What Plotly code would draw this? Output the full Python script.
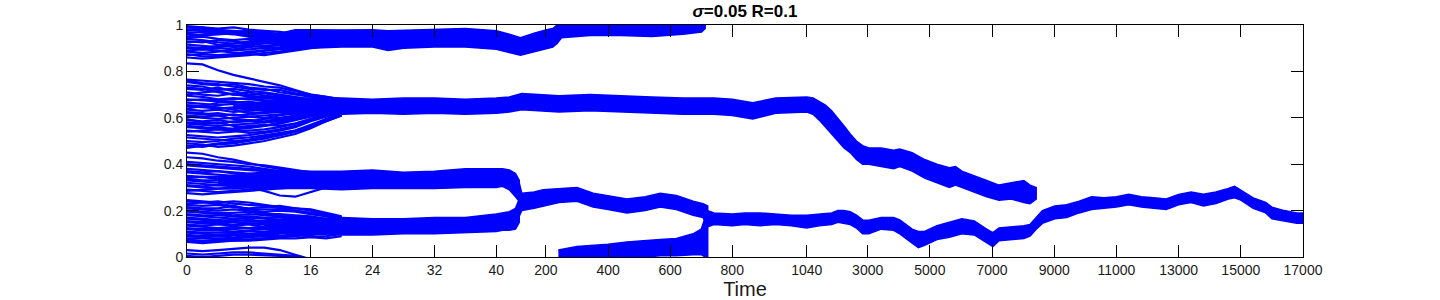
import numpy as np
import plotly.graph_objects as go

# ---------------- axis scale (three linear time phases) ----------------
BREAK_T = [0, 40, 1040, 17000]
BREAK_U = [0.0, 309.5, 620.2, 1116.8]
TICK_T = [0, 8, 16, 24, 32, 40, 200, 400, 600, 800, 1040,
          3000, 5000, 7000, 9000, 11000, 13000, 15000, 17000]
TICK_LABELS = [str(v) for v in TICK_T]
Y_TICKS = [0, 0.2, 0.4, 0.6, 0.8, 1]
Y_LABELS = ["0", "0.2", "0.4", "0.6", "0.8", "1"]

# ---------------- early individual trajectories (t = 0..20) ----------------
T_EARLY = [0, 2, 4, 6, 8, 10, 12, 14, 16, 18, 20]
A_TRAJ = [
    [0.99, 0.985, 0.98, 0.975, 0.97, 0.965, 0.96, 0.955, 0.95, 0.945, 0.945],
    [0.975, 0.98, 0.97, 0.965, 0.96, 0.955, 0.95, 0.945, 0.94, 0.94, 0.94],
    [0.96, 0.955, 0.96, 0.965, 0.955, 0.95, 0.945, 0.94, 0.935, 0.935, 0.935],
    [0.945, 0.95, 0.94, 0.935, 0.94, 0.935, 0.93, 0.935, 0.93, 0.93, 0.93],
    [0.93, 0.925, 0.935, 0.93, 0.92, 0.925, 0.93, 0.925, 0.93, 0.93, 0.93],
    [0.915, 0.91, 0.905, 0.91, 0.915, 0.92, 0.925, 0.93, 0.93, 0.935, 0.935],
    [0.90, 0.895, 0.90, 0.895, 0.905, 0.91, 0.915, 0.92, 0.925, 0.93, 0.93],
    [0.885, 0.88, 0.885, 0.89, 0.895, 0.90, 0.905, 0.915, 0.92, 0.925, 0.93],
    [0.87, 0.875, 0.87, 0.875, 0.885, 0.89, 0.895, 0.90, 0.91, 0.92, 0.925],
    [0.86, 0.855, 0.86, 0.865, 0.87, 0.88, 0.885, 0.895, 0.905, 0.915, 0.925],
    [0.995, 0.99, 0.985, 0.99, 0.98, 0.975, 0.97, 0.96, 0.955, 0.95, 0.945],
    [0.95, 0.96, 0.965, 0.96, 0.95, 0.945, 0.95, 0.945, 0.94, 0.94, 0.94],
    [0.98, 0.975, 0.965, 0.97, 0.96, 0.955, 0.96, 0.95, 0.945, 0.94, 0.94],
    [0.965, 0.97, 0.975, 0.965, 0.965, 0.96, 0.955, 0.95, 0.95, 0.945, 0.94],
    [0.94, 0.935, 0.925, 0.92, 0.925, 0.93, 0.925, 0.93, 0.935, 0.935, 0.935],
    [0.925, 0.93, 0.915, 0.905, 0.91, 0.905, 0.915, 0.92, 0.925, 0.93, 0.93],
    [0.905, 0.90, 0.91, 0.92, 0.93, 0.925, 0.93, 0.935, 0.935, 0.935, 0.935],
    [0.89, 0.895, 0.89, 0.88, 0.88, 0.89, 0.90, 0.905, 0.915, 0.925, 0.93],
    [0.875, 0.865, 0.865, 0.87, 0.875, 0.87, 0.88, 0.89, 0.90, 0.91, 0.92],
    [0.99, 0.99, 0.975, 0.97, 0.975, 0.97, 0.96, 0.96, 0.955, 0.95, 0.945],
    [0.835, 0.83, 0.805, 0.785, 0.77, 0.755, 0.74, 0.72, 0.70, 0.69, 0.68],
]
B_TRAJ = [
    [0.765, 0.76, 0.755, 0.75, 0.745, 0.735, 0.73, 0.715, 0.70, 0.69, 0.68],
    [0.755, 0.745, 0.74, 0.745, 0.73, 0.725, 0.71, 0.70, 0.69, 0.68, 0.675],
    [0.74, 0.735, 0.72, 0.725, 0.715, 0.71, 0.70, 0.69, 0.68, 0.675, 0.67],
    [0.725, 0.72, 0.73, 0.715, 0.70, 0.705, 0.695, 0.685, 0.675, 0.67, 0.665],
    [0.71, 0.70, 0.695, 0.705, 0.69, 0.685, 0.68, 0.675, 0.67, 0.665, 0.66],
    [0.695, 0.69, 0.68, 0.685, 0.68, 0.675, 0.67, 0.665, 0.66, 0.66, 0.655],
    [0.68, 0.675, 0.67, 0.665, 0.67, 0.66, 0.665, 0.66, 0.655, 0.655, 0.65],
    [0.665, 0.66, 0.655, 0.66, 0.65, 0.655, 0.65, 0.65, 0.65, 0.65, 0.65],
    [0.65, 0.645, 0.64, 0.645, 0.64, 0.645, 0.64, 0.645, 0.645, 0.645, 0.645],
    [0.635, 0.63, 0.635, 0.625, 0.63, 0.635, 0.64, 0.64, 0.64, 0.64, 0.64],
    [0.62, 0.615, 0.62, 0.61, 0.615, 0.62, 0.625, 0.63, 0.635, 0.635, 0.64],
    [0.605, 0.60, 0.595, 0.60, 0.605, 0.61, 0.615, 0.62, 0.625, 0.63, 0.635],
    [0.59, 0.585, 0.59, 0.58, 0.585, 0.595, 0.60, 0.61, 0.62, 0.625, 0.63],
    [0.575, 0.57, 0.565, 0.57, 0.575, 0.58, 0.59, 0.60, 0.61, 0.62, 0.63],
    [0.56, 0.555, 0.56, 0.55, 0.555, 0.565, 0.575, 0.59, 0.605, 0.615, 0.625],
    [0.545, 0.54, 0.535, 0.54, 0.545, 0.55, 0.56, 0.575, 0.595, 0.61, 0.625],
    [0.525, 0.52, 0.515, 0.52, 0.525, 0.535, 0.545, 0.56, 0.585, 0.605, 0.62],
    [0.50, 0.495, 0.50, 0.51, 0.515, 0.525, 0.535, 0.545, 0.57, 0.595, 0.615],
    [0.48, 0.475, 0.485, 0.49, 0.50, 0.51, 0.525, 0.54, 0.56, 0.59, 0.615],
    [0.47, 0.48, 0.49, 0.495, 0.505, 0.52, 0.53, 0.545, 0.565, 0.585, 0.61],
    [0.76, 0.75, 0.745, 0.735, 0.725, 0.72, 0.72, 0.705, 0.695, 0.685, 0.675],
    [0.73, 0.725, 0.71, 0.70, 0.71, 0.695, 0.69, 0.68, 0.675, 0.67, 0.665],
    [0.70, 0.71, 0.715, 0.70, 0.695, 0.69, 0.685, 0.675, 0.665, 0.66, 0.655],
    [0.675, 0.68, 0.675, 0.68, 0.685, 0.675, 0.67, 0.665, 0.66, 0.655, 0.65],
    [0.655, 0.65, 0.665, 0.67, 0.66, 0.665, 0.66, 0.655, 0.65, 0.65, 0.65],
    [0.64, 0.65, 0.645, 0.635, 0.62, 0.625, 0.63, 0.635, 0.64, 0.645, 0.645],
    [0.625, 0.62, 0.61, 0.615, 0.605, 0.60, 0.61, 0.62, 0.63, 0.635, 0.64],
    [0.61, 0.605, 0.61, 0.595, 0.59, 0.585, 0.595, 0.605, 0.615, 0.625, 0.635],
    [0.595, 0.58, 0.575, 0.585, 0.59, 0.58, 0.585, 0.60, 0.615, 0.625, 0.63],
    [0.58, 0.575, 0.58, 0.565, 0.56, 0.565, 0.58, 0.595, 0.61, 0.62, 0.63],
    [0.565, 0.56, 0.55, 0.555, 0.565, 0.57, 0.565, 0.575, 0.595, 0.615, 0.625],
    [0.54, 0.545, 0.55, 0.545, 0.535, 0.54, 0.55, 0.565, 0.59, 0.61, 0.625],
    [0.515, 0.51, 0.505, 0.50, 0.505, 0.515, 0.525, 0.54, 0.565, 0.595, 0.615],
    [0.49, 0.485, 0.475, 0.48, 0.49, 0.50, 0.515, 0.53, 0.555, 0.585, 0.61],
]
C_TRAJ = [
    [0.45, 0.445, 0.43, 0.42, 0.405, 0.39, 0.38, 0.37, 0.36, 0.355, 0.35],
    [0.41, 0.405, 0.40, 0.395, 0.39, 0.38, 0.37, 0.365, 0.36, 0.355, 0.35],
    [0.395, 0.39, 0.385, 0.38, 0.375, 0.37, 0.36, 0.355, 0.35, 0.35, 0.345],
    [0.38, 0.375, 0.37, 0.365, 0.36, 0.355, 0.35, 0.345, 0.345, 0.34, 0.34],
    [0.365, 0.36, 0.355, 0.35, 0.35, 0.345, 0.34, 0.34, 0.335, 0.335, 0.335],
    [0.35, 0.345, 0.345, 0.34, 0.335, 0.335, 0.33, 0.33, 0.33, 0.33, 0.33],
    [0.335, 0.33, 0.33, 0.325, 0.325, 0.32, 0.325, 0.325, 0.325, 0.325, 0.33],
    [0.32, 0.315, 0.31, 0.31, 0.315, 0.315, 0.32, 0.32, 0.32, 0.325, 0.325],
    [0.305, 0.30, 0.295, 0.30, 0.305, 0.31, 0.31, 0.315, 0.315, 0.32, 0.32],
    [0.29, 0.285, 0.28, 0.285, 0.29, 0.295, 0.30, 0.305, 0.31, 0.315, 0.32],
    [0.275, 0.27, 0.275, 0.28, 0.285, 0.29, 0.295, 0.30, 0.305, 0.31, 0.315],
    [0.33, 0.325, 0.32, 0.31, 0.30, 0.285, 0.265, 0.26, 0.28, 0.30, 0.315],
    [0.43, 0.425, 0.415, 0.41, 0.40, 0.395, 0.385, 0.375, 0.365, 0.36, 0.355],
    [0.40, 0.395, 0.39, 0.385, 0.38, 0.375, 0.365, 0.36, 0.355, 0.35, 0.345],
    [0.37, 0.365, 0.37, 0.36, 0.355, 0.35, 0.345, 0.345, 0.34, 0.34, 0.335],
    [0.34, 0.345, 0.335, 0.33, 0.33, 0.335, 0.335, 0.33, 0.33, 0.33, 0.33],
    [0.31, 0.305, 0.31, 0.305, 0.30, 0.30, 0.305, 0.31, 0.315, 0.32, 0.32],
    [0.285, 0.29, 0.295, 0.295, 0.30, 0.30, 0.305, 0.31, 0.315, 0.32, 0.32],
]
D_TRAJ = [
    [0.245, 0.24, 0.235, 0.24, 0.235, 0.225, 0.215, 0.21, 0.205, 0.19, 0.175],
    [0.225, 0.22, 0.225, 0.215, 0.21, 0.215, 0.22, 0.21, 0.20, 0.185, 0.17],
    [0.21, 0.205, 0.20, 0.205, 0.20, 0.195, 0.20, 0.195, 0.185, 0.175, 0.165],
    [0.195, 0.19, 0.185, 0.18, 0.185, 0.18, 0.175, 0.17, 0.165, 0.16, 0.155],
    [0.18, 0.175, 0.17, 0.165, 0.17, 0.165, 0.16, 0.16, 0.155, 0.15, 0.15],
    [0.165, 0.16, 0.155, 0.16, 0.155, 0.15, 0.15, 0.145, 0.145, 0.145, 0.145],
    [0.15, 0.145, 0.145, 0.14, 0.145, 0.14, 0.14, 0.14, 0.14, 0.14, 0.14],
    [0.135, 0.13, 0.125, 0.13, 0.125, 0.13, 0.13, 0.13, 0.135, 0.135, 0.135],
    [0.12, 0.115, 0.115, 0.11, 0.115, 0.12, 0.12, 0.125, 0.125, 0.13, 0.13],
    [0.105, 0.10, 0.095, 0.10, 0.10, 0.105, 0.11, 0.115, 0.12, 0.12, 0.125],
    [0.09, 0.085, 0.09, 0.085, 0.09, 0.095, 0.10, 0.105, 0.11, 0.115, 0.12],
    [0.075, 0.07, 0.075, 0.07, 0.075, 0.08, 0.085, 0.095, 0.10, 0.11, 0.115],
    [0.065, 0.06, 0.065, 0.07, 0.07, 0.075, 0.08, 0.08, 0.085, 0.09, 0.10],
    [0.14, 0.135, 0.14, 0.135, 0.14, 0.13, 0.12, 0.10, 0.085, 0.08, 0.09],
    [0.23, 0.235, 0.23, 0.22, 0.205, 0.19, 0.18, 0.175, 0.17, 0.165, 0.16],
    [0.24, 0.235, 0.24, 0.23, 0.225, 0.22, 0.21, 0.20, 0.19, 0.18, 0.17],
    [0.215, 0.21, 0.21, 0.22, 0.205, 0.205, 0.205, 0.20, 0.19, 0.18, 0.17],
    [0.20, 0.195, 0.19, 0.19, 0.195, 0.185, 0.185, 0.18, 0.175, 0.165, 0.16],
    [0.185, 0.18, 0.18, 0.175, 0.175, 0.17, 0.17, 0.165, 0.16, 0.155, 0.15],
    [0.17, 0.165, 0.16, 0.155, 0.16, 0.155, 0.155, 0.15, 0.15, 0.145, 0.145],
    [0.155, 0.15, 0.15, 0.15, 0.145, 0.145, 0.145, 0.14, 0.14, 0.14, 0.14],
    [0.125, 0.12, 0.12, 0.12, 0.125, 0.125, 0.125, 0.13, 0.13, 0.13, 0.13],
    [0.11, 0.105, 0.105, 0.105, 0.11, 0.11, 0.115, 0.12, 0.12, 0.125, 0.125],
    [0.095, 0.09, 0.095, 0.095, 0.095, 0.10, 0.105, 0.11, 0.115, 0.12, 0.12],
    [0.08, 0.08, 0.08, 0.08, 0.085, 0.09, 0.09, 0.10, 0.105, 0.11, 0.115],
    [0.07, 0.065, 0.07, 0.075, 0.075, 0.08, 0.085, 0.09, 0.095, 0.10, 0.11],
]
T_E = [0, 2, 4, 6, 8, 10, 12, 14, 16]
E_TRAJ = [
    [0.03, 0.025, 0.03, 0.035, 0.04, 0.04, 0.03, 0.01, -0.01],
    [0.015, 0.01, 0.015, 0.02, 0.02, 0.015, 0.01, 0.005, -0.01],
    [0.005, 0.0, 0.005, 0.01, 0.01, 0.008, 0.005, 0.0, -0.01],
]

# ---------------- clusters (opinion range lo..hi over time) ----------------
A_T = [8, 12, 14, 16, 20, 24, 26, 28, 32, 36, 40, 82, 118, 162, 202, 222, 236, 250, 342, 441, 541, 641, 701, 713]
A_LO = [0.93, 0.915, 0.90, 0.90, 0.905, 0.905, 0.89, 0.90, 0.905, 0.905, 0.895, 0.88, 0.87, 0.885, 0.90, 0.905, 0.92, 0.945, 0.955, 0.955, 0.95, 0.96, 0.97, 0.985]
A_HI = [0.95, 0.965, 0.98, 0.98, 0.978, 0.98, 0.975, 0.975, 0.98, 0.985, 0.975, 0.96, 0.945, 0.965, 0.98, 0.985, 1.0, 1.01, 1.02, 1.02, 1.02, 1.02, 1.02, 1.01]

B_T = [6, 10, 14, 16, 20, 24, 28, 32, 36, 40, 82, 122, 182, 242, 342, 441, 541, 641, 741, 800, 866, 940, 1040,
       1243, 1442, 1641, 1840, 2040, 2239, 2438, 2637, 2837, 3036, 3434, 3833, 4032, 4431, 4829,
       5228, 5626, 5826, 6028, 6427, 6825, 7224, 7622, 8021, 8220, 8419]
B_LO = [0.64, 0.63, 0.615, 0.615, 0.615, 0.62, 0.615, 0.62, 0.615, 0.62, 0.625, 0.635, 0.63, 0.625, 0.63, 0.625, 0.62, 0.615, 0.615, 0.61, 0.595, 0.62, 0.625,
        0.615, 0.59, 0.56, 0.53, 0.50, 0.47, 0.45, 0.42, 0.40, 0.40, 0.39, 0.38, 0.39, 0.37, 0.34,
        0.32, 0.30, 0.31, 0.30, 0.28, 0.26, 0.245, 0.25, 0.235, 0.23, 0.25]
B_HI = [0.655, 0.67, 0.685, 0.685, 0.685, 0.68, 0.685, 0.685, 0.68, 0.685, 0.69, 0.705, 0.70, 0.695, 0.70, 0.695, 0.69, 0.685, 0.685, 0.68, 0.665, 0.685, 0.69,
        0.685, 0.67, 0.655, 0.63, 0.60, 0.565, 0.53, 0.50, 0.48, 0.47, 0.47, 0.46, 0.465, 0.45, 0.42,
        0.40, 0.385, 0.39, 0.37, 0.35, 0.33, 0.31, 0.32, 0.33, 0.31, 0.30]

C_T = [4, 8, 12, 16, 20, 24, 28, 32, 36, 40, 60, 82, 102, 114]
C_LO = [0.32, 0.305, 0.295, 0.295, 0.29, 0.295, 0.295, 0.295, 0.30, 0.30, 0.305, 0.29, 0.26, 0.24]
C_HI = [0.345, 0.36, 0.375, 0.37, 0.37, 0.375, 0.365, 0.37, 0.38, 0.38, 0.38, 0.375, 0.36, 0.33]

D_T = [10, 16, 20, 24, 28, 32, 36, 40, 60, 82, 102, 114]
D_LO = [0.12, 0.105, 0.095, 0.095, 0.10, 0.10, 0.105, 0.11, 0.115, 0.115, 0.12, 0.15]
D_HI = [0.145, 0.16, 0.17, 0.165, 0.165, 0.17, 0.17, 0.185, 0.19, 0.195, 0.21, 0.25]

CD_T = [112, 122, 162, 191, 242, 300, 352, 400, 461, 520, 568, 620, 674, 706, 721]
CD_LO = [0.17, 0.20, 0.21, 0.22, 0.235, 0.24, 0.215, 0.205, 0.19, 0.20, 0.215, 0.205, 0.18, 0.17, 0.13]
CD_HI = [0.33, 0.275, 0.28, 0.29, 0.295, 0.30, 0.275, 0.265, 0.25, 0.26, 0.275, 0.265, 0.24, 0.23, 0.22]

E_T = [240, 300, 352, 400, 461, 520, 568, 620, 674, 700, 713, 721]
E_LO = [-0.01, -0.01, -0.01, -0.01, 0.0, 0.0, 0.005, 0.005, 0.01, 0.01, 0.0, 0.0]
E_HI = [0.03, 0.045, 0.05, 0.055, 0.065, 0.07, 0.075, 0.08, 0.10, 0.12, 0.17, 0.2]

F_T = [721, 741, 800, 840, 890, 940, 990, 1040, 1442, 1840, 2040, 2239, 2438, 2637, 2837, 3036, 3434, 3833,
       4032, 4431, 4630, 4829, 5228, 5626, 6028, 6427, 6825, 7025, 7224, 7622, 8021, 8220, 8420, 8619,
       9017, 9400, 9800, 10200, 10600, 11000, 11400, 11800, 12200, 12600, 13000, 13400, 13800, 14200,
       14600, 14800, 15000, 15400, 15800, 16000, 16400, 16800, 17000]
F_LO = [0.13, 0.14, 0.135, 0.14, 0.135, 0.14, 0.135, 0.125, 0.135, 0.14, 0.15, 0.145, 0.14, 0.125, 0.10, 0.10, 0.12, 0.115,
        0.10, 0.06, 0.04, 0.05, 0.075, 0.085, 0.10, 0.095, 0.06, 0.045, 0.07, 0.075, 0.08, 0.09, 0.12, 0.145,
        0.165, 0.17, 0.19, 0.205, 0.21, 0.215, 0.225, 0.215, 0.21, 0.205, 0.225, 0.235, 0.22, 0.23,
        0.25, 0.255, 0.245, 0.21, 0.19, 0.165, 0.155, 0.145, 0.145]
F_HI = [0.20, 0.19, 0.185, 0.19, 0.19, 0.185, 0.18, 0.18, 0.185, 0.19, 0.20, 0.20, 0.195, 0.18, 0.16, 0.158, 0.17, 0.17,
        0.16, 0.12, 0.11, 0.11, 0.135, 0.15, 0.165, 0.155, 0.12, 0.105, 0.125, 0.13, 0.135, 0.14, 0.17, 0.20,
        0.22, 0.225, 0.24, 0.26, 0.255, 0.26, 0.27, 0.26, 0.255, 0.25, 0.27, 0.28, 0.27, 0.28,
        0.295, 0.305, 0.29, 0.255, 0.235, 0.215, 0.20, 0.19, 0.19]

BLUE = "rgb(0,0,255)"
FONT = "Liberation Sans, Arial, Helvetica, sans-serif"


def u(t):
    return np.interp(np.asarray(t, dtype=float), BREAK_T, BREAK_U)


fig = go.Figure()

# filled clusters
for tt, lo, hi in [(A_T, A_LO, A_HI), (B_T, B_LO, B_HI), (C_T, C_LO, C_HI), (D_T, D_LO, D_HI),
                   (CD_T, CD_LO, CD_HI), (E_T, E_LO, E_HI), (F_T, F_LO, F_HI)]:
    xs = list(u(tt)) + list(u(tt))[::-1]
    ys = list(lo) + list(hi)[::-1]
    fig.add_trace(go.Scatter(x=xs, y=ys, fill="toself", fillcolor=BLUE, mode="lines",
                             line=dict(color=BLUE, width=1.5), hoverinfo="skip"))

# individual early trajectories
for tgrid, group in [(T_EARLY, A_TRAJ), (T_EARLY, B_TRAJ), (T_EARLY, C_TRAJ),
                     (T_EARLY, D_TRAJ), (T_E, E_TRAJ)]:
    xs, ys = [], []
    ux = list(u(tgrid))
    for traj in group:
        xs += ux + [None]
        ys += list(traj) + [None]
    fig.add_trace(go.Scatter(x=xs, y=ys, mode="lines", line=dict(color=BLUE, width=2.2),
                             hoverinfo="skip"))

axis_common = dict(showline=True, linecolor="black", linewidth=1, mirror="ticks",
                   ticks="inside", ticklen=12, tickwidth=1, tickcolor="black",
                   showgrid=False, zeroline=False, automargin=False,
                   tickfont=dict(family=FONT, size=14, color="#1a1a1a"))

fig.update_layout(
    width=1440, height=300,
    margin=dict(l=187, r=137, t=25, b=43),
    paper_bgcolor="white", plot_bgcolor="white", showlegend=False,
    title=dict(text="<b><i>σ</i>=0.05 R=0.1</b>", x=0.5, xref="paper", xanchor="center",
               y=1 - 11 / 300, yref="container", yanchor="middle",
               font=dict(family=FONT, size=17, color="black")),
    xaxis=dict(range=[0, BREAK_U[-1]], tickmode="array", tickvals=list(u(TICK_T)),
               ticktext=TICK_LABELS,
               title=dict(text="Time", standoff=2, font=dict(family=FONT, size=20, color="#1a1a1a")),
               **axis_common),
    yaxis=dict(range=[0, 1], tickmode="array", tickvals=Y_TICKS, ticktext=Y_LABELS,
               **axis_common),
)

fig.write_html("out.html", config={"displayModeBar": False},
               post_script="document.body.style.margin='0';")
